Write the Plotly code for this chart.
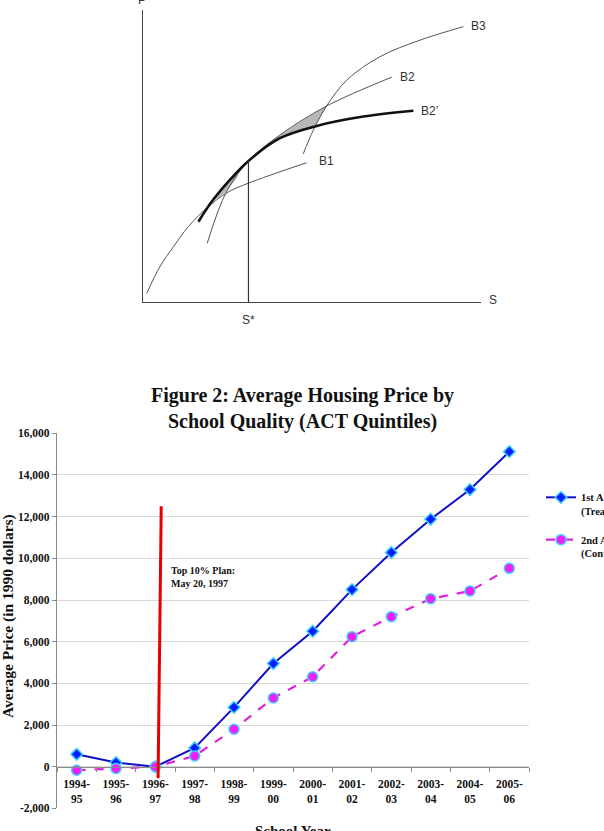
import plotly.graph_objects as go

W, H = 604, 831

# ---------------- Schematic (diagram units: S and P on 0..100) ----------------
b1_s = [1.1, 5.0, 9.0, 13.4, 18.8, 24.8, 31.2, 48.4]
b1_p = [3.0, 12.1, 18.9, 25.8, 32.1, 37.4, 40.7, 47.7]
b2_s = [19.0, 24.7, 31.2, 40.5, 54.3, 73.6]
b2_p = [20.1, 37.8, 48.3, 57.2, 67.1, 77.0]
b2p_s = [16.4, 20.3, 25.7, 31.2, 40.5, 51.4, 65.2, 80.0]
b2p_p = [27.5, 34.3, 41.8, 48.3, 56.1, 60.3, 63.5, 65.5]
b3_s = [47.4, 50.4, 54.3, 60.3, 70.1, 82.0, 94.8]
b3_p = [50.7, 58.9, 67.1, 76.0, 84.0, 89.7, 94.3]
s_star, p_star = 31.2, 48.3
shade1_s = [31.2, 35.5, 40.5, 47.3, 54.3, 52.5, 50.9, 45.5, 40.5, 35.5, 31.2]
shade1_p = [48.3, 53.0, 57.2, 62.3, 67.1, 63.3, 60.0, 58.4, 56.1, 52.3, 48.3]
shade2_s = [20.3, 23.0, 25.7, 28.5, 28.0, 24.8, 22.5, 20.3]
shade2_p = [34.3, 38.5, 41.8, 45.2, 43.0, 37.8, 35.9, 34.3]
curve_labels = ["B3", "B2", "B2\u2019", "B1"]
curve_label_s = [96.4, 75.4, 81.7, 51.5]
curve_label_p = [94.5, 77.1, 65.4, 48.3]

# ---------------- Figure 2 data ----------------
years = ["1994-<br>95", "1995-<br>96", "1996-<br>97", "1997-<br>98", "1998-<br>99",
         "1999-<br>00", "2000-<br>01", "2001-<br>02", "2002-<br>03", "2003-<br>04",
         "2004-<br>05", "2005-<br>06"]
q1_price = [600, 200, 0, 900, 2850, 4950, 6500, 8500, 10280, 11880, 13300, 15120]
q2_price = [-170, -80, 0, 520, 1800, 3300, 4320, 6240, 7200, 8060, 8430, 9520]
y_ticks = [-2000, 0, 2000, 4000, 6000, 8000, 10000, 12000, 14000, 16000]
y_tick_labels = ["-2,000", "0", "2,000", "4,000", "6,000", "8,000", "10,000",
                 "12,000", "14,000", "16,000"]
plan_line_x = [2.07, 2.15]
plan_line_y = [-550, 12500]

def px_x(p):
    return p / W

def px_y(p):
    return 1 - p / H

fig = go.Figure()

# schematic
grey = "#555555"
fig.add_trace(go.Scatter(x=shade1_s, y=shade1_p, fill="toself", fillcolor="#b8b8b8",
                         line=dict(width=0), mode="lines", xaxis="x2", yaxis="y2",
                         showlegend=False, hoverinfo="skip"))
fig.add_trace(go.Scatter(x=shade2_s, y=shade2_p, fill="toself", fillcolor="#b8b8b8",
                         line=dict(width=0), mode="lines", xaxis="x2", yaxis="y2",
                         showlegend=False, hoverinfo="skip"))
for xs, ys, w, c in [(b1_s, b1_p, 1.0, grey), (b2_s, b2_p, 1.0, grey),
                     (b3_s, b3_p, 1.0, grey), (b2p_s, b2p_p, 2.6, "#111111")]:
    fig.add_trace(go.Scatter(x=xs, y=ys, mode="lines",
                             line=dict(color=c, width=w, shape="spline", smoothing=1.0),
                             xaxis="x2", yaxis="y2", showlegend=False, hoverinfo="skip",
                             cliponaxis=False))
fig.add_trace(go.Scatter(x=[s_star, s_star], y=[0, p_star], mode="lines",
                         line=dict(color="#333333", width=1.2), xaxis="x2", yaxis="y2",
                         showlegend=False, hoverinfo="skip"))

# Figure 2 series
fig.add_trace(go.Scatter(
    x=years, y=q1_price, mode="lines+markers",
    name="1st ACT Quintile<br>(Treatment)", legendgroup="a",
    line=dict(color="#1010C8", width=2),
    marker=dict(symbol="diamond", size=9, color="#0020FF",
                line=dict(color="#40D0FF", width=1.5)),
    xaxis="x", yaxis="y"))
fig.add_trace(go.Scatter(
    x=years, y=q2_price, mode="lines+markers",
    name="2nd ACT Quintile<br>(Control)", legendgroup="b",
    line=dict(color="#E020E0", width=2.2, dash="dash"),
    marker=dict(symbol="circle", size=10, color="#F020F0",
                line=dict(color="#40D0FF", width=1.5)),
    xaxis="x", yaxis="y"))

serif = "Liberation Serif"
sans = "Liberation Sans"

# diagram coordinate -> paper helpers (diagram area: x 143..481 px, y 302..10 px)
def dx(s):
    return px_x(143 + s * (481 - 143) / 100)

def dy(p):
    return px_y(302 - p * (302 - 10) / 100)

annotations = []
for t, s, p in zip(curve_labels, curve_label_s, curve_label_p):
    annotations.append(dict(text=t, x=s, y=p, xref="x2", yref="y2", xanchor="left",
                            yanchor="middle", showarrow=False,
                            font=dict(family=sans, size=12, color="#333333")))
annotations += [
    dict(text="S", x=dx(103.6), y=dy(0.7), xref="paper", yref="paper", showarrow=False,
         xanchor="center", yanchor="middle",
         font=dict(family=sans, size=12, color="#333333")),
    dict(text="S*", x=dx(s_star), y=dy(-6.2), xref="paper", yref="paper", showarrow=False,
         xanchor="center", yanchor="middle",
         font=dict(family=sans, size=12, color="#333333")),
    dict(text="P", x=px_x(142), y=px_y(0), xref="paper", yref="paper", showarrow=False,
         xanchor="center", yanchor="middle",
         font=dict(family=sans, size=12, color="#333333")),
    dict(text="<b>Figure 2: Average Housing Price by<br>School Quality (ACT Quintiles)</b>",
         x=0.5, y=px_y(409), xref="paper", yref="paper", showarrow=False,
         xanchor="center", yanchor="middle",
         font=dict(family=serif, size=20, color="#111111")),
    dict(text="<b>Average Price (in 1990 dollars)</b>", textangle=-90,
         x=px_x(8), y=px_y(616), xref="paper", yref="paper", showarrow=False,
         xanchor="center", yanchor="middle",
         font=dict(family=serif, size=15.5, color="#111111")),
    dict(text="<b>School Year</b>", x=px_x(293), y=px_y(821), xref="paper", yref="paper",
         showarrow=False, xanchor="center", yanchor="top",
         font=dict(family=serif, size=15, color="#111111")),
    dict(text="<b>Top 10% Plan:<br>May 20, 1997</b>", x=px_x(169), y=px_y(563),
         xref="paper", yref="paper", showarrow=False, xanchor="left", yanchor="top",
         align="left", font=dict(family=serif, size=10, color="#111111")),
]

fig.update_layout(
    width=W, height=H,
    margin=dict(l=0, r=0, t=0, b=0, autoexpand=False),
    paper_bgcolor="white", plot_bgcolor="white",
    showlegend=True,
    legend=dict(x=px_x(541), y=px_y(484), xanchor="left", yanchor="top", valign="top",
                traceorder="grouped", tracegroupgap=12, bgcolor="rgba(0,0,0,0)",
                font=dict(family=serif, size=10.5, color="#111111", weight="bold")),
    xaxis=dict(domain=[px_x(57), px_x(529)], anchor="free", position=px_y(766.7),
               type="category", range=[-0.5, 11.5],
               showline=True, linecolor="#8a8a8a", linewidth=1.2,
               ticks="outside", ticklen=4, tickcolor="#8a8a8a", tickson="boundaries",
               ticklabelstandoff=6,
               showgrid=False, zeroline=False,
               tickfont=dict(family=serif, size=11.5, color="#111111", weight="bold")),
    yaxis=dict(domain=[px_y(808.4), px_y(433.3)], range=[-2000, 16000], anchor="x",
               tickvals=y_ticks, ticktext=y_tick_labels,
               showline=True, linecolor="#8a8a8a", linewidth=1.2,
               ticks="outside", ticklen=4, tickcolor="#8a8a8a",
               showgrid=True, gridcolor="#d9d9d9", gridwidth=1, zeroline=False,
               tickfont=dict(family=serif, size=11.5, color="#111111", weight="bold")),
    xaxis2=dict(domain=[px_x(143), px_x(481)], range=[0, 100], anchor="y2",
                showline=True, linecolor="#444444", linewidth=1.2, showgrid=False,
                zeroline=False, showticklabels=False, ticks=""),
    yaxis2=dict(domain=[px_y(302), px_y(10)], range=[0, 100], anchor="x2",
                showline=True, linecolor="#444444", linewidth=1.2, showgrid=False,
                zeroline=False, showticklabels=False, ticks=""),
    annotations=annotations,
    shapes=[dict(type="line", xref="x", yref="y",
                 x0=plan_line_x[0], y0=plan_line_y[0], x1=plan_line_x[1], y1=plan_line_y[1],
                 line=dict(color="#E80000", width=3))],
)

fig.write_html("out.html")
